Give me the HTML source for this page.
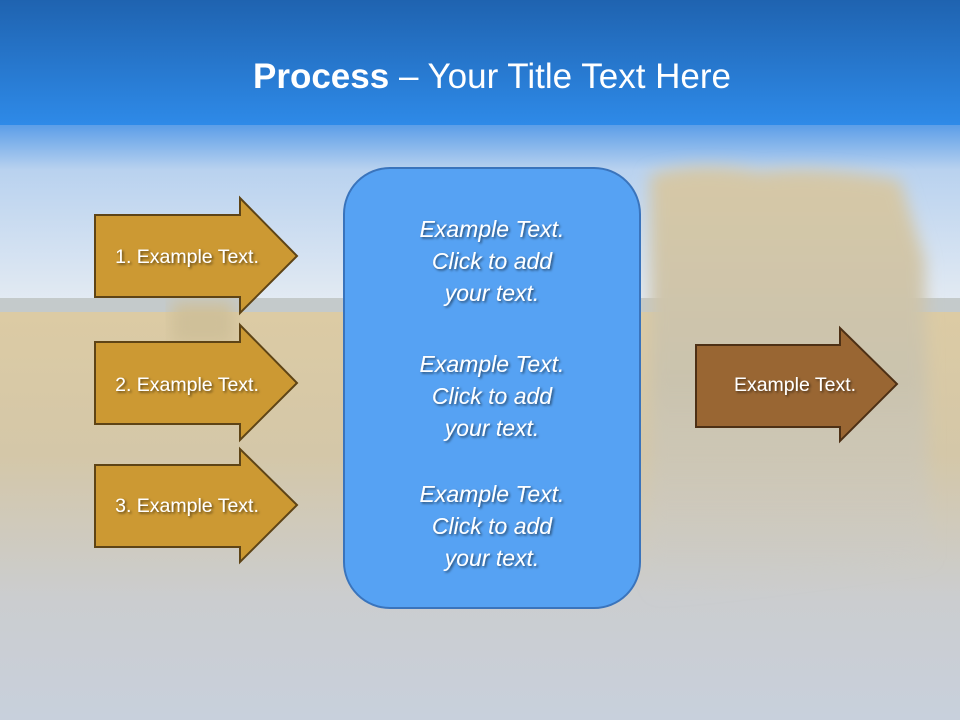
<!DOCTYPE html>
<html><head><meta charset="utf-8"><style>
html,body{margin:0;padding:0;width:960px;height:720px;overflow:hidden}
body{font-family:"Liberation Sans",sans-serif}
</style></head><body>
<svg width="960" height="720" viewBox="0 0 960 720" xmlns="http://www.w3.org/2000/svg">
<defs>
<linearGradient id="top" x1="0" y1="0" x2="0" y2="1">
<stop offset="0" stop-color="#1f63b0"/><stop offset="1" stop-color="#2e8ae8"/></linearGradient>
<linearGradient id="sky" x1="0" y1="0" x2="0" y2="1">
<stop offset="0" stop-color="#5c9ee8"/><stop offset="0.25" stop-color="#b9d2ef"/><stop offset="1" stop-color="#e4ebf3"/></linearGradient>
<linearGradient id="field" x1="0" y1="0" x2="0" y2="1">
<stop offset="0" stop-color="#dccba4"/><stop offset="0.35" stop-color="#d4c7a8"/><stop offset="0.7" stop-color="#cbcdcf"/><stop offset="1" stop-color="#c8d0dc"/></linearGradient>
<linearGradient id="bale" x1="0" y1="0" x2="0" y2="1">
<stop offset="0" stop-color="#d6c8a6"/><stop offset="0.5" stop-color="#cac3ae"/><stop offset="1" stop-color="#c8ccd4" stop-opacity="0"/></linearGradient>
<filter id="ts"><feDropShadow dx="1.5" dy="1.5" stdDeviation="1.2" flood-color="#000" flood-opacity="0.55"/></filter>
<filter id="blur"><feGaussianBlur stdDeviation="8"/></filter>
</defs>
<rect x="0" y="0" width="960" height="125" fill="url(#top)"/>
<rect x="0" y="125" width="960" height="180" fill="url(#sky)"/>
<rect x="0" y="298" width="960" height="16" fill="#c4cacb"/>
<rect x="0" y="312" width="960" height="408" fill="url(#field)"/>
<path d="M650 175 Q700 160 760 172 Q820 165 900 180 L925 260 L930 560 L650 600 Z" fill="url(#bale)" filter="url(#blur)"/>
<rect x="172" y="302" width="62" height="42" fill="#cfc099" filter="url(#blur)"/>
<text x="492" y="88" text-anchor="middle" fill="#fff" font-size="35"><tspan font-weight="bold">Process</tspan> – Your Title Text Here</text>

<g fill="#cc9933" stroke="#5e4416" stroke-width="2">
<path d="M95 215 H240 V198 L297 256 L240 313 V297 H95 Z"/>
<path d="M95 342 H240 V325 L297 383 L240 440 V424 H95 Z"/>
<path d="M95 465 H240 V449 L297 505 L240 562 V547 H95 Z"/>
</g>
<path d="M696 345 H840 V328 L897 384 L840 441 V427 H696 Z" fill="#996633" stroke="#4d3015" stroke-width="2"/>
<g fill="#fff" font-size="19.5" text-anchor="middle" filter="url(#ts)">
<text x="187" y="263">1. Example Text.</text>
<text x="187" y="391">2. Example Text.</text>
<text x="187" y="512">3. Example Text.</text>
<text x="795" y="391">Example Text.</text>
</g>
<rect x="344" y="168" width="296" height="440" rx="46" fill="#56a2f3" stroke="#3a74bc" stroke-width="2"/>
<g fill="#fff" font-size="23" font-style="italic" text-anchor="middle" filter="url(#ts)">
<text x="492" y="237">Example Text.</text><text x="492" y="269">Click  to add</text><text x="492" y="301">your text.</text>
<text x="492" y="372">Example Text.</text><text x="492" y="404">Click  to add</text><text x="492" y="436">your text.</text>
<text x="492" y="502">Example Text.</text><text x="492" y="534">Click  to add</text><text x="492" y="566">your text.</text>
</g>
</svg>
</body></html>
